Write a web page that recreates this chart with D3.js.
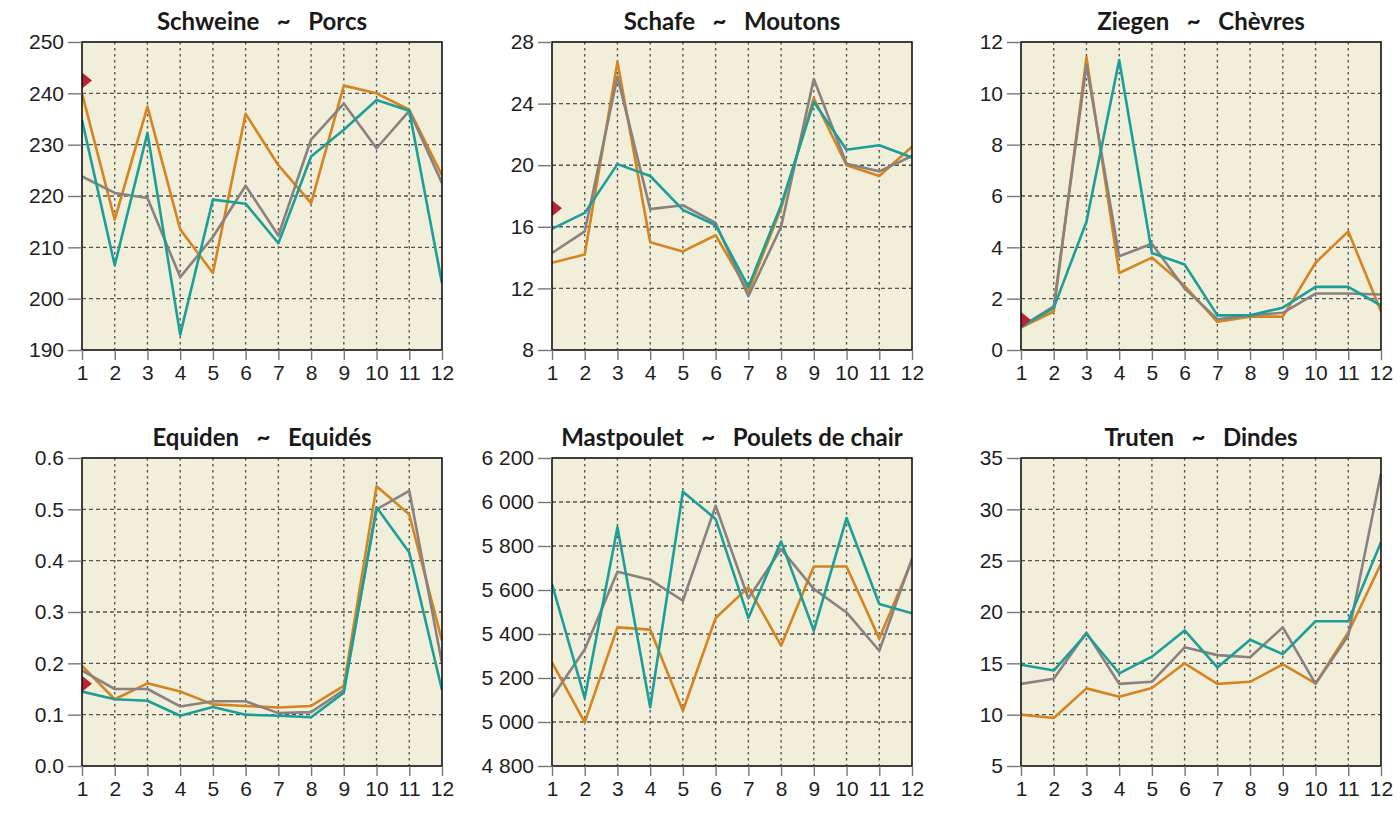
<!DOCTYPE html>
<html>
<head>
<meta charset="utf-8">
<script src="https://cdn.jsdelivr.net/npm/d3@7"></script>
<style>
  body { margin: 0; background: #fff; }
  svg { display: block; font-family: Lato, "Noto Sans", sans-serif; }
</style>
</head>
<body>
<div id="chart"></div>
<script>
(function(){
  'use strict';

  // data
  var months = [1, 2, 3, 4, 5, 6, 7, 8, 9, 10, 11, 12];

  var schweineA = [240, 215.4, 237.4, 213.5, 205, 236, 226, 218.6, 241.5, 240, 236.8, 224];
  var schweineB = [223.8, 220.6, 219.6, 204.2, 212, 222, 212.3, 231, 238, 229.3, 236.6, 222.5];
  var schweineC = [234.8, 206.5, 232.3, 193, 219.3, 218.5, 210.8, 227.7, 232.9, 238.7, 236.6, 203];
  var schweineMark = 242.5;
  var schweineTicks = [190, 200, 210, 220, 230, 240, 250];

  var schafeA = [13.66, 14.2, 26.7, 15, 14.4, 15.45, 11.8, 17.2, 24.35, 20, 19.3, 21.2];
  var schafeB = [14.3, 15.7, 25.75, 17.15, 17.4, 16.25, 11.5, 16, 25.6, 20.1, 19.6, 20.6];
  var schafeC = [15.86, 16.9, 20.07, 19.3, 17.1, 16.1, 12.1, 17.4, 24.1, 21, 21.3, 20.5];
  var schafeMark = 17.2;
  var schafeTicks = [8, 12, 16, 20, 24, 28];

  var ziegenA = [0.87, 1.5, 11.4, 3.0, 3.6, 2.5, 1.1, 1.3, 1.3, 3.4, 4.62, 1.5];
  var ziegenB = [0.9, 1.7, 11.1, 3.65, 4.14, 2.4, 1.2, 1.35, 1.45, 2.2, 2.2, 2.16];
  var ziegenC = [0.9, 1.64, 5.0, 11.3, 3.78, 3.33, 1.35, 1.35, 1.65, 2.46, 2.46, 1.73];
  var ziegenMark = 1.17;
  var ziegenTicks = [0, 2, 4, 6, 8, 10, 12];

  var equidenA = [0.195, 0.13, 0.161, 0.145, 0.12, 0.117, 0.114, 0.117, 0.156, 0.545, 0.49, 0.244];
  var equidenB = [0.186, 0.15, 0.15, 0.116, 0.126, 0.126, 0.103, 0.105, 0.148, 0.5, 0.536, 0.2];
  var equidenC = [0.145, 0.13, 0.127, 0.098, 0.115, 0.1, 0.098, 0.095, 0.143, 0.504, 0.416, 0.148];
  var equidenMark = 0.16;
  var equidenTicks = [0, 0.1, 0.2, 0.3, 0.4, 0.5, 0.6];

  var pouletA = [5271, 4998, 5430, 5420, 5051, 5473, 5612, 5347, 5707, 5707, 5379, 5733];
  var pouletB = [5112, 5330, 5683, 5647, 5551, 5983, 5562, 5786, 5605, 5498, 5324, 5744];
  var pouletC = [5627, 5109, 5885, 5067, 6047, 5923, 5473, 5821, 5415, 5927, 5536, 5494];
  var pouletTicks = [4800, 5000, 5200, 5400, 5600, 5800, 6000, 6200];

  var trutenA = [10, 9.67, 12.56, 11.75, 12.6, 15, 13, 13.2, 14.9, 13.05, 18, 24.7];
  var trutenB = [13, 13.5, 18, 13, 13.2, 16.56, 15.8, 15.6, 18.5, 13, 17.7, 33.5];
  var trutenC = [14.87, 14.3, 17.86, 14.03, 15.65, 18.2, 14.6, 17.3, 15.9, 19.1, 19.1, 26.8];
  var trutenTicks = [5, 10, 15, 20, 25, 30, 35];

  var titles = [
    'Schweine   ~   Porcs',
    'Schafe   ~   Moutons',
    'Ziegen   ~   Chèvres',
    'Equiden   ~   Equidés',
    'Mastpoulet   ~   Poulets de chair',
    'Truten   ~   Dindes'
  ];

  var colors = ['#d5841f', '#8a8181', '#1c9f98'];

  var spaceFmt = d3.formatLocale({decimal: '.', thousands: '\u2009', grouping: [3], currency: ['', '']}).format(',');
  var thousands = function(d) { return spaceFmt(d).replace('\u2009', ' '); };

  var panels = [
    {title: titles[0], series: [schweineA, schweineB, schweineC], mark: schweineMark, ticks: schweineTicks, fmt: d3.format('d')},
    {title: titles[1], series: [schafeA, schafeB, schafeC], mark: schafeMark, ticks: schafeTicks, fmt: d3.format('d')},
    {title: titles[2], series: [ziegenA, ziegenB, ziegenC], mark: ziegenMark, ticks: ziegenTicks, fmt: d3.format('d')},
    {title: titles[3], series: [equidenA, equidenB, equidenC], mark: equidenMark, ticks: equidenTicks, fmt: d3.format('.1f')},
    {title: titles[4], series: [pouletA, pouletB, pouletC], mark: null, ticks: pouletTicks, fmt: thousands},
    {title: titles[5], series: [trutenA, trutenB, trutenC], mark: null, ticks: trutenTicks, fmt: d3.format('d')}
  ];

  var colLeft = [82, 552, 1021],
      rowTop = [42, 458],
      pw = 360,
      ph = 308;

  var svg = d3.select('#chart').append('svg')
    .attr('width', 1400)
    .attr('height', 824);

  panels.forEach(function(p, i) {
    addPanel(p, colLeft[i % 3], rowTop[Math.floor(i / 3)], i);
  });

  function addPanel(p, left, top, idx) {
    var g = svg.append('g')
      .attr('transform', 'translate(' + left + ',' + top + ')');

    var x = d3.scaleLinear()
      .domain([1, 12])
      .range([0, pw]);

    var y = d3.scaleLinear()
      .domain(d3.extent(p.ticks))
      .range([ph, 0]);

    g.append('clipPath')
      .attr('id', 'clip' + idx)
      .append('rect')
      .attr('width', pw)
      .attr('height', ph);

    g.append('rect')
      .attr('width', pw)
      .attr('height', ph)
      .attr('fill', '#f1efda');

    // grid
    g.selectAll('.vgrid')
      .data(months.slice(1, -1))
      .enter()
      .append('line')
      .attr('x1', function(d) { return x(d); })
      .attr('x2', function(d) { return x(d); })
      .attr('y1', 0)
      .attr('y2', ph)
      .style('stroke', '#555')
      .style('stroke-width', 1.4)
      .style('stroke-dasharray', '2.5,3.5');

    g.selectAll('.hgrid')
      .data(p.ticks.slice(1, -1))
      .enter()
      .append('line')
      .attr('x1', 0)
      .attr('x2', pw)
      .attr('y1', function(d) { return y(d); })
      .attr('y2', function(d) { return y(d); })
      .style('stroke', '#555')
      .style('stroke-width', 1.4)
      .style('stroke-dasharray', '4,3');

    var line = d3.line()
      .x(function(d, i) { return x(months[i]); })
      .y(function(d) { return y(d); });

    var plot = g.append('g').attr('clip-path', 'url(#clip' + idx + ')');

    plot.selectAll('.series')
      .data(p.series)
      .enter()
      .append('path')
      .attr('d', line)
      .style('fill', 'none')
      .style('stroke', function(d, i) { return colors[i]; })
      .style('stroke-width', 2.6)
      .style('stroke-linejoin', 'round');

    if (p.mark !== null) {
      var my = y(p.mark), mx = x(1);
      plot.append('path')
        .attr('d', 'M' + (mx - 10) + ',' + my + 'L' + mx + ',' + (my - 8) + 'L' + (mx + 10) + ',' + my + 'L' + mx + ',' + (my + 8) + 'Z')
        .style('fill', '#b82432');
    }

    g.append('rect')
      .attr('width', pw)
      .attr('height', ph)
      .style('fill', 'none')
      .style('stroke', '#111')
      .style('stroke-width', 1.6);

    // axes
    var yAxis = d3.axisLeft(y)
      .tickValues(p.ticks)
      .tickSize(14)
      .tickPadding(4)
      .tickFormat(p.fmt);

    var xAxis = d3.axisBottom(x)
      .tickValues(months)
      .tickSize(10)
      .tickPadding(5)
      .tickFormat(d3.format('d'));

    var ya = g.append('g').call(yAxis);
    var xa = g.append('g').attr('transform', 'translate(0,' + ph + ')').call(xAxis);

    [ya, xa].forEach(function(a) {
      a.select('.domain').remove();
      a.selectAll('.tick line').style('stroke', '#777').style('stroke-width', 1.4);
      a.selectAll('.tick text')
        .style('font-size', '21px')
        .style('fill', '#1e1e1e');
    });

    g.append('text')
      .attr('x', pw / 2)
      .attr('y', -12)
      .attr('text-anchor', 'middle')
      .style('white-space', 'pre')
      .style('font-size', '24px')
      .style('font-weight', 'bold')
      .style('fill', '#1a1a1a')
      .text(p.title);
  }

}());
</script>
</body>
</html>
